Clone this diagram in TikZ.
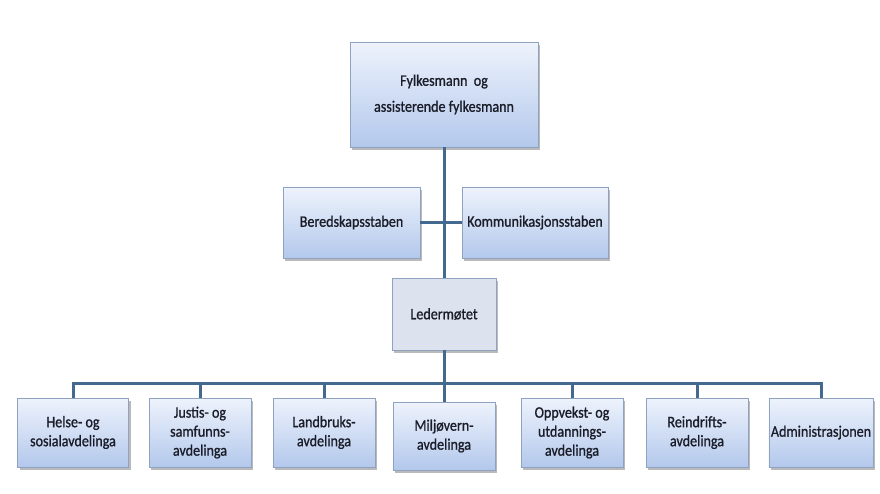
\documentclass[tikz,border=0pt]{standalone}
\usepackage{fontspec}
\setmainfont[FakeStretch=0.88,FakeBold=1.0]{Carlito}
\usetikzlibrary{shadows}
\definecolor{linecol}{HTML}{44698F}
\definecolor{boxtop}{HTML}{EEF3FC}
\definecolor{boxbot}{HTML}{B3C8EC}
\definecolor{boxborder}{HTML}{8FA2BF}
\definecolor{txt}{HTML}{1A1D28}
\definecolor{ledfill}{HTML}{DCE3EE}
\tikzset{
  orgbox/.style={draw=boxborder, line width=0.8pt, top color=boxtop, bottom color=boxbot,
    align=center, text=txt, inner sep=2pt,
    font=\fontsize{16}{19}\selectfont,
    drop shadow={shadow xshift=2pt, shadow yshift=-2.5pt, opacity=0.45, fill=black!60}},
  ledbox/.style={orgbox, top color=ledfill, bottom color=ledfill},
  conn/.style={draw=linecol, line width=3pt}
}
\begin{document}
\begin{tikzpicture}[x=1pt,y=-1pt]
\useasboundingbox[fill=white] (0,0) rectangle (880,493);
\node[orgbox, minimum width=188pt, minimum height=105pt, font=\fontsize{16}{26}\selectfont] (top) at (444,94.5) {Fylkesmann\ \ og\\assisterende fylkesmann};
\node[orgbox, minimum width=137pt, minimum height=71pt] (bered) at (351.5,222.5) {Beredskapsstaben};
\node[orgbox, minimum width=146pt, minimum height=71pt] (komm) at (535,222.5) {Kommunikasjonsstaben};
\node[ledbox, minimum width=104pt, minimum height=72pt] (leder) at (444,314) {Ledermøtet};
\coordinate (bus) at (444,383);
\node[orgbox, minimum width=111pt, minimum height=69pt] (helse) at (73,432.5) {Helse- og\\sosialavdelinga};
\node[orgbox, minimum width=102pt, minimum height=69pt] (justis) at (200,432.5) {Justis- og\\samfunns-\\avdelinga};
\node[orgbox, minimum width=102pt, minimum height=69pt] (landbruk) at (324,432.5) {Landbruks-\\avdelinga};
\node[orgbox, minimum width=102pt, minimum height=68pt] (miljo) at (444,436) {Miljøvern-\\avdelinga};
\node[orgbox, minimum width=102pt, minimum height=69pt] (oppvekst) at (572,432.5) {Oppvekst- og\\utdannings-\\avdelinga};
\node[orgbox, minimum width=102pt, minimum height=69pt] (rein) at (697,432.5) {Reindrifts-\\avdelinga};
\node[orgbox, minimum width=102pt, minimum height=69pt] (admin) at (821,432.5) {Administrasjonen};
\draw[conn] (top.south) -- (leder.north);
\draw[conn] (bered.east) -- (komm.west);
\draw[conn] (leder.south) -- (miljo.north);
\draw[conn] (helse.north) -- (helse.north |- bus) -- (admin.north |- bus) -- (admin.north);
\draw[conn] (justis.north) -- (justis.north |- bus);
\draw[conn] (landbruk.north) -- (landbruk.north |- bus);
\draw[conn] (oppvekst.north) -- (oppvekst.north |- bus);
\draw[conn] (rein.north) -- (rein.north |- bus);
\end{tikzpicture}
\end{document}
